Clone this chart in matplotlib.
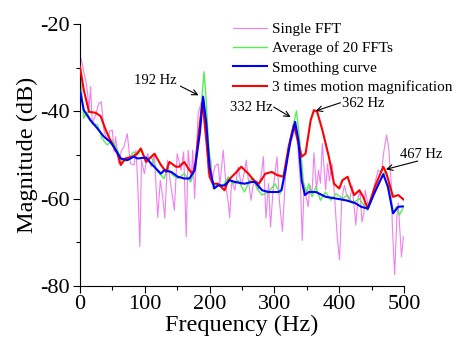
import matplotlib
matplotlib.use("Agg")
import matplotlib.pyplot as plt
from matplotlib.lines import Line2D
from matplotlib.ticker import MultipleLocator

plt.rcParams['font.family'] = ['Liberation Serif', 'DejaVu Serif']
plt.rcParams['axes.unicode_minus'] = False

# single FFT (pink)
f_single = [0, 3.6, 6, 9, 12, 14, 16.5, 19, 24, 29, 33, 37, 42, 46, 50, 52.5, 55, 60, 64, 68,
            73, 78, 83.5, 86.5, 89, 92.5, 95, 99.4, 104.5, 110, 115, 120, 124, 127.7, 131, 135,
            140.6, 145.7, 150, 156, 160, 164, 167, 171.5, 174, 177, 182.4, 187, 191, 195, 198,
            202, 204, 208, 213, 216, 221, 226, 229, 231, 234, 239, 244, 249, 254.5, 256.6, 260,
            264, 267, 270, 275, 280, 283, 287, 291, 294, 298, 304, 307.6, 312.5, 317, 322, 328,
            332, 336, 340, 343, 346, 349, 352, 355, 358, 361, 365, 368, 371, 374, 379, 382, 385,
            389, 393, 397, 400.5, 404, 408, 412, 416, 420, 425.5, 429, 432, 435, 438, 440, 444.5,
            450, 455, 460, 465, 469, 473, 476, 480, 482, 485.5, 489, 491, 493.5, 496, 499]
m_single = [-27, -29, -31, -32.8, -36, -39.7, -34.3, -42.8, -40.9, -38.2, -37.8, -44.3, -46.6, -44.5,
            -44.3, -49.3, -45.8, -52, -49, -48.1, -45.1, -52, -52.3, -48.9, -55.8, -71, -51.2, -54.3,
            -49.7, -52.7, -50, -64.4, -55.8, -59.6, -64.5, -51.2, -57.3, -62.7, -49.7, -53.5, -49.3,
            -68.8, -48.9, -56, -48.9, -60, -40.5, -38, -37, -44, -54.3, -51, -55.8, -52.7, -52,
            -56.6, -48.9, -58.1, -61.1, -64.4, -55.8, -58.1, -52.7, -57, -53.5, -51.2, -56, -60.4,
            -57, -56, -58, -54.3, -50.4, -64.5, -56.6, -66.5, -58, -50.4, -60.4, -67.5, -55, -48,
            -46, -43.5, -48, -56, -69.6, -56.6, -59.6, -61.9, -57, -59, -49.5, -58, -53.5, -56.5,
            -47.4, -58, -52, -56, -52, -60, -69, -74, -60, -57, -59.5, -60.5, -57, -66.1, -60, -58,
            -65.4, -63.4, -58.1, -61.5, -59.6, -56.5, -53.5, -54, -49, -45.4, -48, -56, -66.5,
            -77.5, -64, -61, -67.3, -73.4, -68.8]

# average of 20 FFTs (green)
f_avg = [0, 3, 6, 11, 19, 27, 34, 42, 50, 58, 65, 73, 83, 89, 94, 102, 110, 120, 130, 135, 143,
         151, 161, 171, 178, 185, 188, 191.5, 195, 198, 203, 208, 214, 220, 229, 236, 244, 254,
         262, 268, 273, 281, 291, 301, 309, 317, 325, 334, 340, 345, 350, 353, 358, 364, 371,
         379, 387, 395, 405, 413, 420, 431, 438, 444, 452, 460, 470, 475, 483, 488, 493, 499]
m_avg = [-31.7, -36, -41.6, -40.1, -42.8, -43.1, -46.2, -47.7, -46.6, -48.9, -51.6, -51.2, -49.3,
         -50, -48.9, -51, -50.4, -53.9, -55.4, -53.1, -54.6, -55.4, -54.3, -56.2, -53, -44, -37,
         -30.9, -38, -46.6, -55, -57.3, -56.5, -57.2, -55, -56.6, -55.8, -58.5, -55.8, -55.4,
         -57.7, -59.2, -58.5, -56.6, -58.9, -53, -46, -39.9, -48, -56.6, -58.5, -56.6, -59.6,
         -57.3, -60.4, -58.5, -60.4, -58.9, -60, -59.2, -61.1, -60, -61.5, -62.7, -59.6, -56.6,
         -53.9, -55.4, -63.4, -61.9, -63.8, -61.9]

# smoothing curve (blue)
f_smooth = [0, 6, 16, 27, 37, 47, 52, 63, 73, 83, 89, 102, 110, 125, 130, 141, 151, 161, 169,
            177, 185, 190, 195, 200, 207, 213, 223, 231, 239, 254, 265, 270, 281, 291, 306, 311,
            317, 325, 332, 337, 342, 347, 353, 364, 379, 395, 410, 424, 434, 444, 455, 468, 475,
            483, 491, 498]
m_smooth = [-35.1, -39.7, -42, -43.9, -45.8, -47, -48.1, -50.8, -51.2, -50.4, -50.8, -50.6, -52,
            -54.3, -53.5, -53.9, -55, -55.4, -55.4, -53.5, -45, -36.6, -42.8, -52.7, -57.7, -57,
            -57, -55.8, -56.2, -56.6, -56.2, -56.2, -58.1, -58.5, -58.5, -58.1, -53.5, -46.6,
            -42.4, -46.6, -55.8, -59.2, -58.5, -58.5, -59.6, -60, -60.4, -61, -61.9, -62.3, -58.5,
            -54.4, -57.3, -63.4, -61.9, -61.8]

# 3 times motion magnification (red)
f_mag = [0, 6, 14, 24, 32, 40, 47, 58, 63, 70, 81, 88, 94, 102, 115, 125, 133, 138, 148, 153,
         161, 169, 174, 178, 182, 189, 195, 200, 205, 213, 223, 229, 239, 249, 257, 260, 268, 276,
         286, 296, 304, 314, 322, 330, 336, 342, 348, 356, 361, 366, 374, 384, 392, 400, 405, 413,
         418, 423, 431, 437, 444, 455, 468, 473, 483, 491, 499]
m_mag = [-29.7, -35.1, -40.1, -40.3, -41.1, -44.3, -46.6, -49.7, -52.3, -50.8, -50.4, -49.7, -48.5,
         -51.6, -49.7, -52.3, -53.9, -51.6, -52.7, -52.7, -51.6, -53.5, -54.3, -52, -46.6, -37.8,
         -46.6, -55, -56.6, -56.6, -58.1, -55.8, -54.3, -52.7, -53.9, -54.3, -55.8, -56.6, -54.3,
         -53.9, -54.6, -55, -48.1, -43.1, -46.6, -50.4, -49.7, -42, -39.7, -40.1, -44.3, -50.4,
         -56.6, -57.7, -55.8, -55, -57.3, -59.2, -58.1, -59.6, -62.3, -57.3, -52.7, -54.3, -59.6,
         -59.2, -60.2]

labels = ["Single FFT", "Average of 20 FFTs", "Smoothing curve", "3 times motion magnification"]
colors = ["#f07ff0", "#55ee55", "#0000ff", "#ff0000"]
widths = [0.8, 1.0, 1.5, 1.5]

fig = plt.figure(figsize=(4.54, 3.45), dpi=100)
ax = fig.add_axes([0.176, 0.172, 0.890 - 0.176, 0.9296 - 0.172])

ax.plot(f_single, m_single, color=colors[0], lw=widths[0], zorder=1)
ax.plot(f_avg, m_avg, color=colors[1], lw=widths[1], zorder=2)
ax.plot(f_mag, m_mag, color=colors[3], lw=widths[3], zorder=3)
ax.plot(f_smooth, m_smooth, color=colors[2], lw=widths[2], zorder=4)

ax.set_xlim(0, 500)
ax.set_ylim(-80, -20)
ax.xaxis.set_major_locator(MultipleLocator(100))
ax.xaxis.set_minor_locator(MultipleLocator(50))
ax.yaxis.set_major_locator(MultipleLocator(20))
ax.yaxis.set_minor_locator(MultipleLocator(10))
for s in ["top", "right"]:
    ax.spines[s].set_visible(False)
ax.tick_params(which="major", length=5, width=0.8, labelsize=16, pad=2)
ax.tick_params(which="minor", length=3, width=0.8)
ax.set_xlabel("Frequency (Hz)", fontsize=17.5, labelpad=0)
ax.set_ylabel("Magnitude (dB)", fontsize=17.5, labelpad=2)

# peak annotations
notes = [("192 Hz", 149, -32.8, "right", (155, -34.2), (183, -36.3)),
         ("332 Hz", 297, -39.0, "right", (299, -39.0), (325, -41.3)),
         ("362 Hz", 405, -38.1, "left", (402, -38.0), (363.6, -39.9)),
         ("467 Hz", 493.5, -49.8, "left", (521, -51.4), (472, -53.3))]
for txt, tx, ty, ha, start, tip in notes:
    ax.text(tx, ty, txt, ha=ha, va="center", fontsize=10.5, clip_on=False)
    ax.annotate("", xy=tip, xytext=start,
                arrowprops=dict(arrowstyle="->", color="black", lw=0.8,
                                shrinkA=0, shrinkB=0, mutation_scale=10))

handles = [Line2D([], [], color=c, lw=w) for c, w in zip(colors, widths)]
fig.legend(handles, labels, loc="upper left", bbox_to_anchor=(233 / 454, 0.935),
           frameon=False, fontsize=11, handlelength=2.2, handletextpad=0.35,
           labelspacing=0.36, borderpad=0, borderaxespad=0)

fig.savefig("out.png", dpi=100)
plt.close(fig)
